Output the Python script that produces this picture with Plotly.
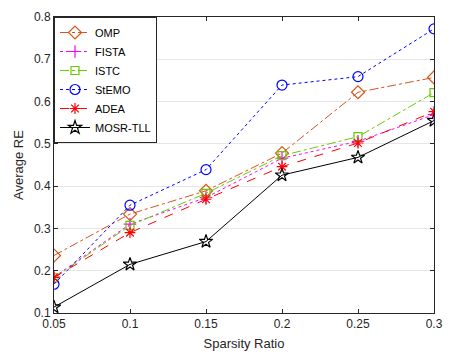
import plotly.graph_objects as go

sparsity = [0.05, 0.1, 0.15, 0.2, 0.25, 0.3]

omp = [0.236, 0.334, 0.389, 0.478, 0.622, 0.657]
fista = [0.185, 0.310, 0.373, 0.466, 0.506, 0.569]
istc = [0.183, 0.307, 0.383, 0.472, 0.517, 0.621]
stemo = [0.168, 0.355, 0.439, 0.639, 0.659, 0.772]
adea = [0.184, 0.290, 0.369, 0.446, 0.502, 0.576]
mosr_tll = [0.114, 0.215, 0.269, 0.426, 0.468, 0.555]

x_ticks = [0.05, 0.1, 0.15, 0.2, 0.25, 0.3]
x_tick_text = ["0.05", "0.1", "0.15", "0.2", "0.25", "0.3"]
y_ticks = [0.1, 0.2, 0.3, 0.4, 0.5, 0.6, 0.7, 0.8]
y_tick_text = ["0.1", "0.2", "0.3", "0.4", "0.5", "0.6", "0.7", "0.8"]

series = [
    ("OMP", omp, "#D95319", "dashdot", "diamond-open", 10),
    ("FISTA", fista, "#FF00FF", "dot", "cross-thin-open", 9),
    ("ISTC", istc, "#66CC00", "dashdot", "square-open", 8),
    ("StEMO", stemo, "#0000FF", "dot", "circle-open", 10),
    ("ADEA", adea, "#FF0000", "dash", "asterisk-open", 9),
    ("MOSR-TLL", mosr_tll, "#000000", "solid", "star-open", 10),
]

fig = go.Figure()
for name, vals, color, dash, symbol, size in series:
    fig.add_trace(go.Scatter(
        x=sparsity, y=vals, name=name, mode="lines+markers",
        line=dict(color=color, width=1, dash=dash),
        marker=dict(symbol=symbol, size=size, color=color,
                    line=dict(color=color, width=1.2)),
    ))

axis_common = dict(
    showline=True, linecolor="#262626", linewidth=1, mirror="ticks",
    ticks="inside", ticklen=4, tickcolor="#262626",
    tickfont=dict(family="Liberation Sans, Arial", size=12, color="#262626"),
    zeroline=False,
)

fig.update_layout(
    width=453, height=359,
    margin=dict(l=54, r=14, t=10, b=46),
    paper_bgcolor="white", plot_bgcolor="white",
    font=dict(family="Liberation Sans, Arial", color="#262626"),
    xaxis=dict(
        range=[0.05, 0.3], tickvals=x_ticks, ticktext=x_tick_text,
        showgrid=False,
        title=dict(text="Sparsity Ratio", font=dict(size=13), standoff=8),
        **axis_common,
    ),
    yaxis=dict(
        range=[0.1, 0.8], tickvals=y_ticks, ticktext=y_tick_text,
        showgrid=True, gridcolor="#E6E6E6", gridwidth=1,
        title=dict(text="Average RE", font=dict(size=13), standoff=7),
        **axis_common,
    ),
    legend=dict(
        x=0, y=1, xanchor="left", yanchor="top",
        bgcolor="white", bordercolor="#262626", borderwidth=1,
        font=dict(size=11, color="#000000"),
        tracegroupgap=0, itemwidth=30,
    ),
)

fig.write_html("out.html")
